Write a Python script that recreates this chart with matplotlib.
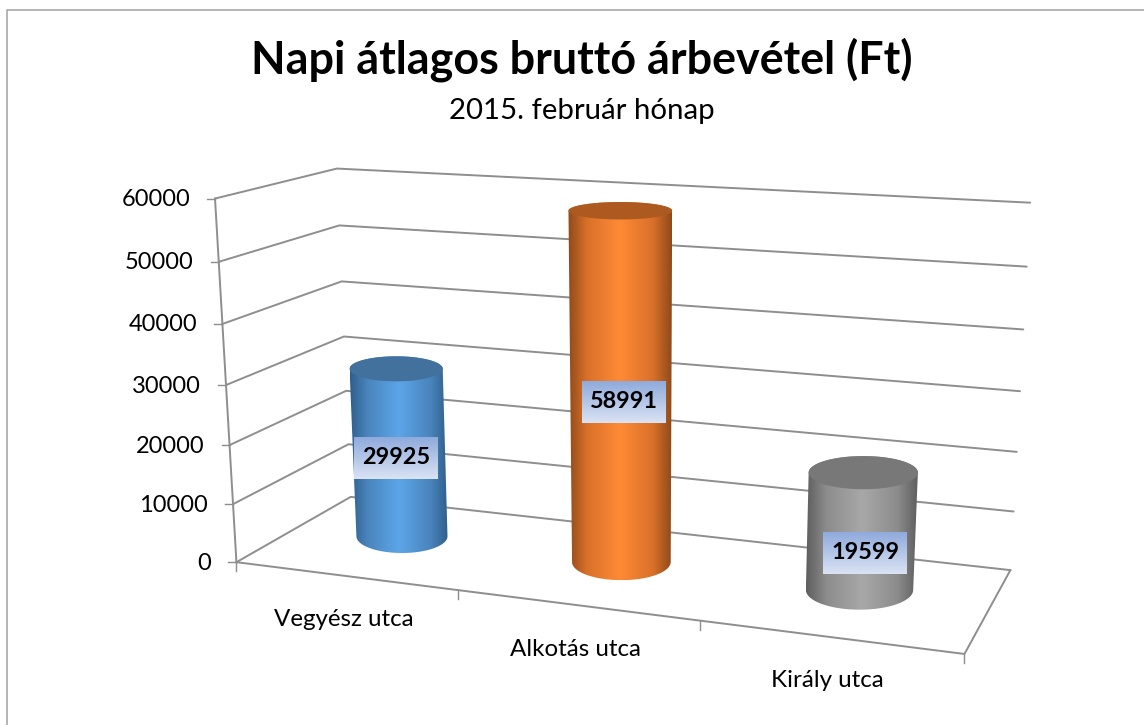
import numpy as np
import matplotlib
matplotlib.use("Agg")
import matplotlib.pyplot as plt
from matplotlib.patches import Polygon

plt.rcParams['font.family'] = ['Lato', 'DejaVu Sans']

title = "Napi átlagos bruttó árbevétel (Ft)"
subtitle = "2015. február hónap"
categories = ["Vegyész utca", "Alkotás utca", "Király utca"]
values = [29925, 58991, 19599]
y_ticks = [0, 10000, 20000, 30000, 40000, 50000, 60000]

W, H = 1144, 725
y_max = 60000
grid_col = "#8e8e8e"

# box corners (category pos, depth, value share) and where they land on the page
box_model = [(0, 0, 0), (0, 0, 1), (0, 1, 0), (0, 1, 1), (1, 1, 0), (1, 1, 1), (1, 0, 0)]
box_page = [(236, 559), (215, 200), (351, 500), (337, 167), (1010, 568), (1030, 203), (965, 656)]

rows = []
for (a, b, c), (u, v) in zip(box_model, box_page):
    rows.append([a, b, c, 1, 0, 0, 0, 0, -u*a, -u*b, -u*c, -u])
    rows.append([0, 0, 0, 0, a, b, c, 1, -v*a, -v*b, -v*c, -v])
P = np.linalg.svd(np.array(rows, dtype=float))[2][-1].reshape(3, 4)


def project(x, d, val):
    x, d, val = np.broadcast_arrays(x, d, val)
    pts = np.stack([x, d, val / y_max, np.ones(x.shape)])
    q = P @ pts
    return q[0] / q[2], q[1] / q[2]


def gradient_fill(ax, poly, stops, zorder, vertical=False):
    pos = [s[0] for s in stops]
    rgb = np.array([matplotlib.colors.to_rgb(s[1]) for s in stops])
    t = np.linspace(0, 1, 256)
    img = np.stack([np.interp(t, pos, rgb[:, i]) for i in range(3)], axis=-1)
    img = img[:, None, :] if vertical else img[None, :, :]
    x0, x1, y0, y1 = poly[:, 0].min(), poly[:, 0].max(), poly[:, 1].min(), poly[:, 1].max()
    im = ax.imshow(img, extent=(x0, x1, y1, y0), aspect="auto", zorder=zorder, interpolation="bilinear")
    patch = Polygon(poly, closed=True, transform=ax.transData, fc="none", ec="none")
    ax.add_patch(patch)
    im.set_clip_path(patch)


def hull(pts):
    pts = sorted(map(tuple, pts))
    def half(seq):
        out = []
        for p in seq:
            while len(out) > 1 and (out[-1][0]-out[-2][0])*(p[1]-out[-2][1]) - (out[-1][1]-out[-2][1])*(p[0]-out[-2][0]) <= 0:
                out.pop()
            out.append(p)
        return out[:-1]
    return np.array(half(pts) + half(pts[::-1]))


def disc(x, d, val):
    # upright ellipse around the projected centre, as the original cylinders have
    px, py = project(x, d, val)
    w = (project(x + rx, d, val)[0] - project(x - rx, d, val)[0]) / 2
    h = (project(x, d - rd, val)[1] - project(x, d + rd, val)[1]) / 2
    return px + w * np.cos(th), py + h * np.sin(th)


fig = plt.figure(figsize=(W / 100, H / 100), dpi=100)
ax = fig.add_axes([0, 0, 1, 1])

# chart border, only top and left are in the picture
ax.plot([6.5, 6.5, W], [H, 10, 10], color="#a0a0a0", lw=1.1)

# walls
for t in y_ticks:
    xs, ys = project([0, 0, 1], [0, 1, 1], t)
    ax.plot(xs, ys, color=grid_col, lw=1.4, zorder=2, solid_capstyle="round")
    ax.plot([xs[0] - 8, xs[0]], [ys[0], ys[0]], color=grid_col, lw=1, zorder=2)
    ax.text(xs[0] - 25, ys[0] + 1, str(t), ha="right", va="center", fontsize=17, color="black")
xs, ys = project([0, 0], [0, 0], [0, y_max])
ax.plot(xs, ys, color=grid_col, lw=1.4, zorder=2)

# floor
xs, ys = project([0, 1, 1], [0, 0, 1], 0)
ax.plot(xs, ys, color=grid_col, lw=1.4, zorder=2)
for i in range(len(categories) + 1):
    xs, ys = project(i / 3, 0, 0)
    ax.plot([xs, xs], [ys, ys + 9], color=grid_col, lw=1, zorder=2)

for i, cat in enumerate(categories):
    xs, ys = project((i + 0.5) / 3, 0, 0)
    ax.text(xs - 1.5, ys + 44, cat, ha="center", va="center", fontsize=17.4, color="black")

# cylinders
side_cols = [("#2f5f8c", "#4a85bd", "#5ca5e8"), ("#8f4a1a", "#d9702a", "#ff8a35"), ("#5e5e5e", "#8c8c8c", "#a8a8a8")]
top_cols = ["#41719c", "#ad5a20", "#787878"]
bar_depth = 0.55
bar_shift = -0.006
height_share = 0.985
rx, rd = 0.072, 0.25
th = np.linspace(0, 2 * np.pi, 120)
label_shift = [(-3, 4), (3, 11), (4, 21)]

for i, val in enumerate(values):
    cat_x = (i + 0.5) / 3 + bar_shift
    bx, by = disc(cat_x, bar_depth, 0)
    tx, ty = disc(cat_x, bar_depth, val * height_share)
    outline = hull(np.vstack([np.c_[bx, by], np.c_[tx, ty]]))
    dark, mid, light = side_cols[i]
    gradient_fill(ax, outline, [(0, dark), (0.18, mid), (0.5, light), (0.82, mid), (1, dark)], 3)
    ax.add_patch(Polygon(np.c_[tx, ty], closed=True, fc=top_cols[i], ec="none", zorder=4))

    mx, my = project(cat_x, bar_depth, val * height_share / 2)
    lx, ly = mx + label_shift[i][0], my + label_shift[i][1]
    box = np.array([[lx - 42, ly - 21], [lx + 42, ly - 21], [lx + 42, ly + 21], [lx - 42, ly + 21]])
    gradient_fill(ax, box, [(0, "#8faadc"), (1, "#dae3f3")], 5, vertical=True)
    ax.text(lx, ly, str(val), ha="center", va="center", fontsize=16.8, fontweight="bold", color="black", zorder=6)

ax.text(582, 60, title, ha="center", va="center", fontsize=32.3, fontweight="bold", color="black")
ax.text(582, 111, subtitle, ha="center", va="center", fontsize=21.2, color="black")

ax.set_xlim(0, W)
ax.set_ylim(H, 0)
ax.axis("off")
fig.savefig("out.png", dpi=100, facecolor="white")
